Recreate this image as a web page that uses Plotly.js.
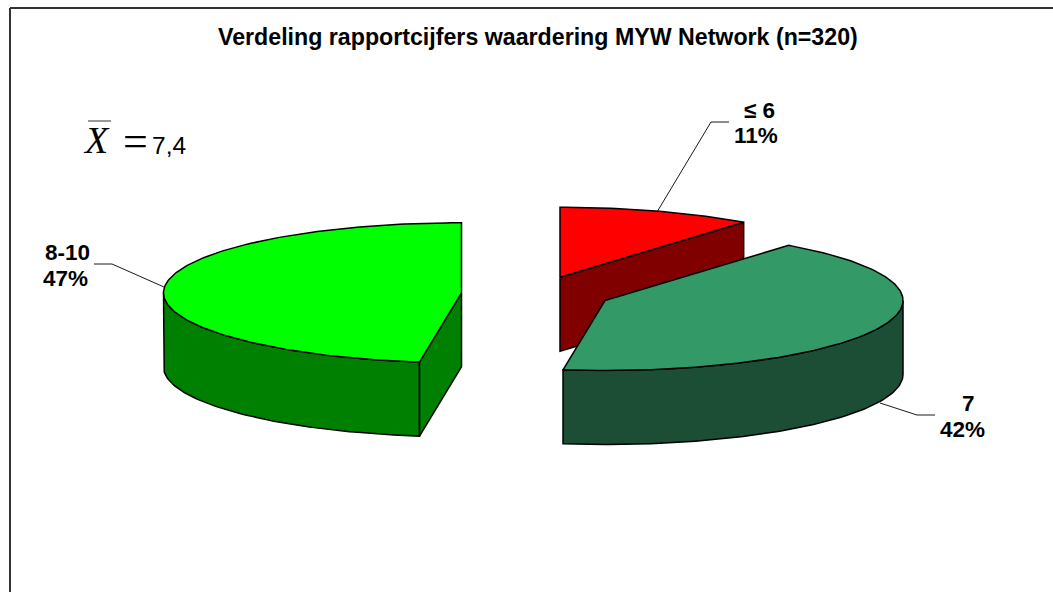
<!DOCTYPE html>
<html><head><meta charset="utf-8">
<script src="https://cdn.plot.ly/plotly-3.0.1.min.js"></script>
<style>html,body{margin:0;padding:0;background:#fff}#c{width:1053px;height:592px}</style>
</head><body><div id="c"></div>
<script>
// Data: slice sizes; labels as printed
var categories = ["≤ 6", "7", "8-10"];
var shares = [10.57, 41.68, 47.75];
var percentLabels = ["11%", "42%", "47%"];
var titleText = "Verdeling rapportcijfers waardering MYW Network (n=320)";

// Styling / geometry of the projection
var topColors = ["#FF0000", "#339966", "#00FF00"];
var sideColors = ["#800000", "#1C4D35", "#008000"];
var centers = [[560, 277.3], [605, 300.5], [461.5, 292.8]];
var RX = 298, RY = 70, DEPTH = 74;

var total = shares.reduce(function (a, b) { return a + b; }, 0);
var angles = [0];
shares.forEach(function (v, i) { angles.push(angles[i] + v / total * 360); });

function pt(c, deg, dz) {
  var r = deg * Math.PI / 180;
  return [c[0] + RX * Math.sin(r), c[1] - RY * Math.cos(r) + (dz || 0)];
}
function arc(c, a0, a1, dz) {
  var out = [], n = Math.max(2, Math.ceil(Math.abs(a1 - a0)));
  for (var k = 0; k <= n; k++) out.push(pt(c, a0 + (a1 - a0) * k / n, dz));
  return out;
}
function poly(points, fill, name) {
  var xs = points.map(function (p) { return p[0]; });
  var ys = points.map(function (p) { return p[1]; });
  xs.push(xs[0]); ys.push(ys[0]);
  return { type: "scatter", mode: "lines", x: xs, y: ys, fill: "toself", fillcolor: fill, name: name,
    line: { color: "#000", width: 1.5 }, hoverinfo: "name", showlegend: false };
}
// visible outer wall: the part of the slice rim with angles 90..270
function outerWall(i) {
  var a0 = Math.max(angles[i], 90), a1 = Math.min(angles[i + 1], 270);
  var c = centers[i];
  return arc(c, a0, a1, 0).concat(arc(c, a1, a0, DEPTH));
}
function flat(i, a) { // radial wall from the centre to the rim at angle a
  var c = centers[i], p = pt(c, a, 0);
  return [c, p, [p[0], p[1] + DEPTH], [c[0], c[1] + DEPTH]];
}
function topFace(i) {
  return [centers[i]].concat(arc(centers[i], angles[i], angles[i + 1], 0));
}

var traces = [];
// red slice (back)
traces.push(poly(flat(0, angles[1]), sideColors[0], categories[0]));
traces.push(poly(topFace(0), topColors[0], categories[0]));
// dark green slice
traces.push(poly(outerWall(1), sideColors[1], categories[1]));
traces.push(poly(topFace(1), topColors[1], categories[1]));
// light green slice
traces.push(poly(outerWall(2), sideColors[2], categories[2]));
traces.push(poly(flat(2, angles[2]), sideColors[2], categories[2]));
traces.push(poly(topFace(2), topColors[2], categories[2]));

// leader lines
var leaders = [
  { x: [729, 711, 657], y: [122, 122, 212] },
  { x: [935, 917, 880], y: [415, 415, 403] },
  { x: [94, 112, 164], y: [264, 264, 287] }
];
leaders.forEach(function (l) {
  traces.push({ type: "scatter", mode: "lines", x: l.x, y: l.y, line: { color: "#000", width: 0.9 },
    hoverinfo: "skip", showlegend: false });
});

function txt(x, y, s, family, size) {
  return { x: x, y: y, xref: "x", yref: "y", showarrow: false, text: s,
    font: { family: family, size: size, color: "#000" } };
}
var SANS = "Liberation Sans, Arial, sans-serif", SERIF = "Liberation Serif, serif";
var LABEL = 22.5;

var layout = {
  width: 1053, height: 592, margin: { l: 0, r: 0, t: 0, b: 0 },
  paper_bgcolor: "#fff", plot_bgcolor: "#fff", showlegend: false,
  xaxis: { range: [0, 1053], visible: false, fixedrange: true },
  yaxis: { range: [592, 0], visible: false, fixedrange: true },
  annotations: [
    txt(538, 37, "<b>" + titleText + "</b>", SANS, 23.2),
    txt(759, 110, "<b>" + categories[0] + "</b>", SANS, LABEL),
    txt(756, 135, "<b>" + percentLabels[0] + "</b>", SANS, LABEL),
    txt(968, 403, "<b>" + categories[1] + "</b>", SANS, LABEL),
    txt(962, 429, "<b>" + percentLabels[1] + "</b>", SANS, LABEL),
    txt(67, 252, "<b>" + categories[2] + "</b>", SANS, LABEL),
    txt(65, 278, "<b>" + percentLabels[2] + "</b>", SANS, LABEL),
    txt(96, 140, "<i>X</i>", SERIF, 38),
    txt(135, 141, "=", SERIF, 44),
    txt(169, 145, "7,4", SANS, 24.5)
  ],
  shapes: [
    { type: "line", x0: 10, x1: 10, y0: 8, y1: 592, line: { color: "#333", width: 2 } },
    { type: "line", x0: 10, x1: 1053, y0: 8, y1: 8, line: { color: "#333", width: 2 } },
    { type: "line", x0: 88, x1: 111, y0: 121, y1: 121, line: { color: "#333", width: 1 } }
  ]
};
Plotly.newPlot("c", traces, layout, { displayModeBar: false, staticPlot: true });
</script></body></html>
